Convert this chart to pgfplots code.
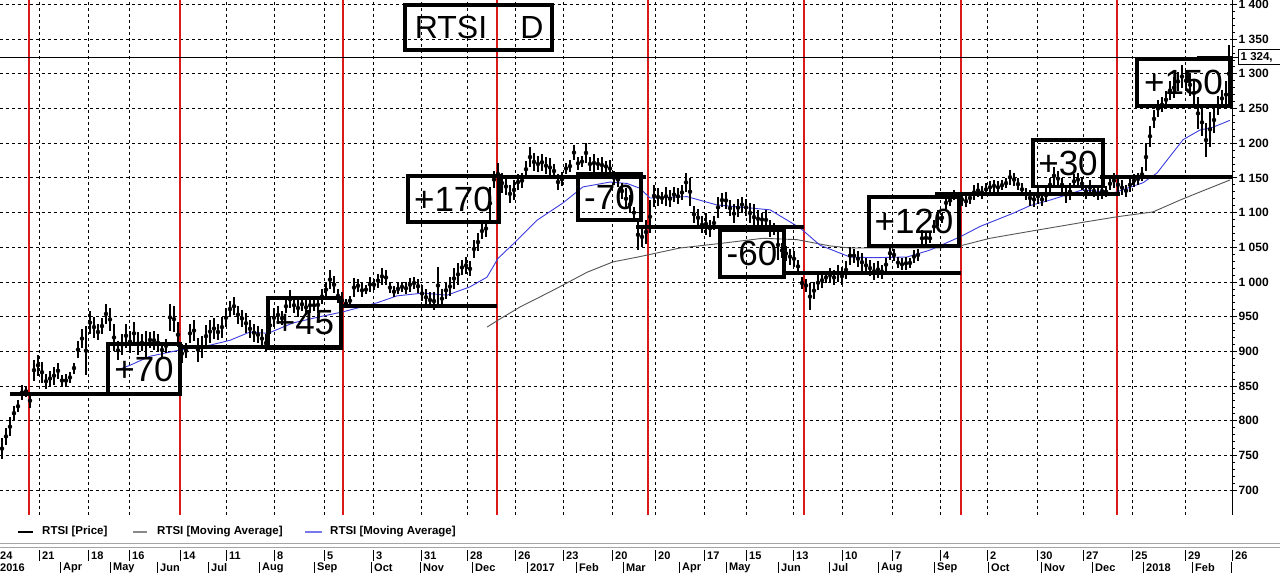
\documentclass[border=0pt]{standalone}
\usepackage{fontspec}
\setmainfont{Liberation Sans}
\usepackage{pgfplots}
\usepackage{pgfplotstable}
\pgfplotsset{compat=1.18}
\definecolor{redline}{RGB}{220,25,25}
\definecolor{mablue}{RGB}{60,60,225}
\definecolor{magray}{RGB}{85,85,85}
\definecolor{sepgray}{RGB}{165,165,165}

\pgfplotstableread{
x lo hi
2 745 775
6 765 790
10 778 805
14 800 822
18 812 830
22 830 852
26 835 850
30 818 840
34 858 888
38 865 895
42 855 885
46 846 868
50 850 872
54 852 878
58 860 884
62 850 866
66 848 868
70 855 870
74 868 884
78 890 915
82 905 932
86 866 936
90 925 958
94 920 950
98 916 940
102 925 948
106 940 968
110 930 962
114 900 940
118 888 915
122 895 925
126 905 940
130 898 930
134 910 942
138 895 928
142 900 925
146 892 930
150 905 928
154 902 930
158 900 925
162 892 912
166 898 918
170 930 968
174 928 965
178 906 942
182 884 910
186 890 912
190 912 940
194 915 945
198 885 920
202 890 922
206 906 938
210 912 945
214 918 948
218 916 940
222 920 950
226 935 962
230 950 972
234 952 978
238 940 966
242 935 960
246 926 955
250 920 945
254 914 940
258 912 936
262 905 932
266 899 925
270 925 950
274 935 962
278 940 965
282 938 958
286 955 975
290 962 988
294 955 978
298 950 975
302 958 978
306 952 975
310 955 978
314 958 975
318 956 978
322 968 990
326 978 1000
330 990 1017
334 984 1008
338 970 990
342 962 985
346 962 976
350 966 980
354 978 1006
358 985 1004
362 978 998
366 982 996
370 986 1007
374 988 1004
378 992 1012
382 996 1020
386 995 1018
390 984 1000
394 978 994
398 982 998
402 986 1000
406 982 1000
410 986 1006
414 990 1007
418 984 1004
422 972 995
426 966 990
430 962 986
434 960 985
438 968 1022
442 962 990
446 976 1000
450 980 1007
454 990 1020
458 995 1027
462 1010 1032
466 1012 1036
470 1008 1030
474 1035 1060
478 1045 1070
482 1062 1085
486 1065 1089
490 1090 1137
494 1135 1160
498 1140 1171
502 1128 1157
506 1125 1150
510 1114 1140
514 1118 1147
518 1133 1155
522 1135 1157
526 1150 1175
530 1165 1195
534 1160 1186
538 1158 1182
542 1160 1185
546 1155 1180
550 1152 1178
554 1150 1170
558 1133 1155
562 1138 1158
566 1155 1172
570 1158 1176
574 1176 1197
578 1162 1180
582 1165 1182
586 1172 1200
590 1160 1180
594 1158 1185
598 1162 1178
602 1157 1180
606 1158 1175
610 1151 1176
614 1140 1160
618 1137 1158
622 1120 1142
626 1105 1135
630 1099 1125
634 1092 1108
638 1046 1090
642 1050 1080
646 1055 1089
650 1070 1118
654 1108 1140
658 1110 1135
662 1112 1130
666 1110 1137
670 1108 1132
674 1115 1137
678 1112 1135
682 1118 1140
686 1130 1157
690 1110 1150
694 1085 1110
698 1080 1105
702 1070 1095
706 1068 1099
710 1065 1090
714 1075 1095
718 1092 1123
722 1108 1128
726 1105 1130
730 1095 1118
734 1085 1112
738 1094 1120
742 1100 1123
746 1095 1120
750 1085 1114
754 1075 1112
758 1078 1104
762 1080 1100
766 1075 1104
770 1065 1089
774 1068 1085
778 1032 1075
782 1035 1056
786 1030 1052
790 1025 1048
794 1022 1045
798 1013 1032
802 990 1007
806 985 1005
810 960 998
814 975 1000
818 988 1010
822 992 1013
826 998 1015
830 1000 1020
834 995 1018
838 1000 1025
842 995 1022
846 1005 1030
850 1025 1051
854 1028 1048
858 1022 1045
862 1015 1042
866 1013 1035
870 1008 1032
874 1003 1028
878 1006 1030
882 1005 1025
886 1015 1035
890 1032 1051
894 1030 1048
898 1020 1036
902 1017 1034
906 1018 1036
910 1020 1035
914 1027 1046
918 1030 1048
922 1051 1075
926 1055 1072
930 1056 1070
934 1070 1090
938 1080 1104
942 1085 1100
946 1105 1123
950 1110 1125
954 1118 1133
958 1120 1130
962 1110 1128
966 1108 1125
970 1112 1130
974 1118 1140
978 1122 1142
982 1120 1138
986 1125 1142
990 1128 1145
994 1130 1147
998 1128 1145
1002 1132 1147
1006 1135 1150
1010 1140 1162
1014 1138 1157
1018 1132 1150
1022 1125 1142
1026 1118 1135
1030 1110 1132
1034 1108 1130
1038 1112 1135
1042 1110 1128
1046 1115 1135
1050 1130 1150
1054 1140 1166
1058 1138 1160
1062 1130 1150
1066 1114 1138
1070 1118 1142
1074 1135 1155
1078 1138 1157
1082 1133 1150
1086 1120 1140
1090 1125 1147
1094 1122 1140
1098 1118 1135
1102 1120 1142
1106 1122 1138
1110 1133 1150
1114 1135 1157
1118 1130 1150
1122 1125 1147
1126 1123 1140
1130 1130 1150
1134 1137 1155
1138 1140 1157
1142 1145 1165
1146 1160 1200
1150 1195 1225
1154 1222 1248
1158 1238 1262
1162 1245 1266
1166 1250 1275
1170 1262 1290
1174 1265 1295
1178 1275 1303
1182 1280 1312
1186 1275 1305
1190 1268 1300
1194 1255 1290
1198 1220 1266
1202 1210 1250
1206 1180 1229
1210 1195 1245
1214 1215 1252
1218 1240 1268
1222 1252 1277
1226 1250 1290
1229 1258 1342
}\bars

\begin{document}
\begin{tikzpicture}
\useasboundingbox (0pt,0pt) rectangle (1280pt,580pt);
\fill[white] (0pt,0pt) rectangle (1280pt,580pt);
\begin{axis}[
  at={(0pt,65pt)}, anchor=south west,
  scale only axis, width=1232pt, height=515pt,
  xmin=0, xmax=1232, ymin=664.27, ymax=1406.34,
  axis line style={draw=none},
  xtick={39,88,129,180,226,274,324,373,421,467,515,563,612,655,704,746,793,842,892,940,987,1037,1083,1132,1185},
  xticklabels={}, major x tick style={draw=none},
  ytick={700,750,...,1400}, minor y tick num=4,
  ytick pos=right, yticklabel pos=right, tick align=outside,
  major tick length=5pt, minor tick length=2.5pt,
  y tick style={black, line width=0.8pt},
  yticklabel style={font=\fontsize{12}{14}\selectfont\bfseries, anchor=west, inner sep=0pt, xshift=1.5pt,
    /pgf/number format/1000 sep={\ }, /pgf/number format/assume math mode=true},
  xmajorgrids, ymajorgrids,
  major grid style={black, line width=0.8pt, dash pattern=on 3pt off 3pt},
]
% red period lines
\foreach \r in {29,180,343,497,648,804,961,1117}{
  \edef\temp{\noexpand\draw[redline, line width=2pt] (axis cs:\r,664.27) -- (axis cs:\r,1406.34);}
  \temp
}
% current price line
\draw[black, line width=0.8pt] (axis cs:0,1324.2) -- (axis cs:1232,1324.2);
% moving averages
\addplot[magray, line width=0.9pt] coordinates {
(487,935) (498,945) (520,964) (553,988) (587,1014) (613,1029) (638,1036) (680,1049) (723,1056) (763,1063) (797,1061) (830,1052) (850,1049) (907,1049) (940,1049) (960,1052) (990,1063) (1030,1073) (1083,1086) (1117,1094) (1153,1101) (1180,1118) (1197,1128) (1230,1147)};
\addplot[mablue, line width=0.9pt] coordinates {
(117,873) (130,880) (150,893) (180,902) (210,909) (230,916) (250,928) (268,926) (293,941) (320,950) (343,957) (377,970) (397,980) (423,984) (447,981) (470,993) (487,1007) (498,1034) (517,1060) (537,1089) (563,1114) (583,1137) (610,1144) (627,1142) (640,1135) (650,1121) (687,1123) (717,1111) (740,1108) (770,1104) (800,1078) (820,1053) (850,1036) (873,1035) (907,1036) (930,1046) (960,1065) (980,1080) (1013,1099) (1030,1110) (1050,1118) (1083,1133) (1113,1128) (1143,1143) (1157,1157) (1183,1205) (1200,1219) (1213,1223) (1230,1233)};
% price bars
\addplot[only marks, mark=none,
  error bars/.cd, y dir=both, y explicit, error mark=none,
  error bar style={draw=black, line width=2pt}]
  table[x=x, y expr={(\thisrow{lo}+\thisrow{hi})/2}, y error expr={(\thisrow{hi}-\thisrow{lo})/2}] {\bars};
% level lines
\addplot[black, line width=4pt] coordinates {(10,839) (180,839)};
\addplot[black, line width=4pt] coordinates {(180,907) (343,907)};
\addplot[black, line width=4pt] coordinates {(343,965) (497,965)};
\addplot[black, line width=4pt] coordinates {(497,1152) (646,1152)};
\addplot[black, line width=4pt] coordinates {(636,1079) (804,1079)};
\addplot[black, line width=4pt] coordinates {(785,1013) (961,1013)};
\addplot[black, line width=4pt] coordinates {(935,1127) (1120,1127)};
\addplot[black, line width=4pt] coordinates {(1100,1152) (1232,1152)};
\addplot[black, line width=4pt] coordinates {(1197,1323) (1232,1323)};
% boxes
\tikzset{bx/.style={draw=black, line width=3.5pt}, bt/.style={font=\fontsize{35}{40}\selectfont, inner sep=0pt}}
\draw[bx] (axis cs:108,838.6) rectangle (axis cs:180,910.7);
\node[bt] at (axis cs:144,874.6) {+70};
\draw[bx] (axis cs:268,904.9) rectangle (axis cs:341,976.9);
\node[bt] at (axis cs:304.5,940.9) {+45};
\draw[bx] (axis cs:408,1086.5) rectangle (axis cs:499,1152.7);
\node[bt] at (axis cs:453.5,1119.6) {+170};
\draw[bx] (axis cs:578,1089.3) rectangle (axis cs:641,1155.6);
\node[bt] at (axis cs:609.5,1122.4) {-70};
\draw[bx] (axis cs:720,1007.2) rectangle (axis cs:784,1074.9);
\node[bt] at (axis cs:752,1041) {-60};
\draw[bx] (axis cs:869,1051.9) rectangle (axis cs:959,1122.5);
\node[bt] at (axis cs:914,1087.2) {+120};
\draw[bx] (axis cs:1033,1137.3) rectangle (axis cs:1103,1204.6);
\node[bt] at (axis cs:1068,1171) {+30};
\draw[bx] (axis cs:1137,1253.6) rectangle (axis cs:1230,1320.9);
\node[bt] at (axis cs:1183.5,1287.2) {+150};
\draw[bx] (axis cs:405,1334.3) rectangle (axis cs:552,1399.1);
\node[font=\fontsize{32}{38}\selectfont, inner sep=0pt] at (axis cs:451,1366.7) {RTSI};
\node[font=\fontsize{32}{38}\selectfont, inner sep=0pt] at (axis cs:532,1366.7) {D};
\end{axis}
% right axis line
\draw[black, line width=1pt] (1232pt,65pt) -- (1232pt,580pt);
% current price label
\draw[black, line width=0.8pt] (1232pt,523pt) -- (1238pt,523pt);
\draw[black, line width=0.8pt, fill=white] (1238pt,515.5pt) rectangle (1281pt,530.5pt);
\node[anchor=west, inner sep=0pt, font=\fontsize{11.5}{13}\selectfont\bfseries] at (1240.5pt,523pt) {1 324,};
% legend
\tikzset{lg/.style={anchor=west, inner sep=0pt, font=\fontsize{11.5}{13}\selectfont\bfseries}}
\draw[black, line width=2pt] (18pt,48pt) -- (33pt,48pt);
\node[lg] at (42pt,48pt) {RTSI [Price]};
\draw[magray!70, line width=2pt] (133pt,48pt) -- (147pt,48pt);
\node[lg] at (157pt,48pt) {RTSI [Moving Average]};
\draw[mablue!70, line width=2pt] (305pt,48pt) -- (322pt,48pt);
\node[lg] at (330pt,48pt) {RTSI [Moving Average]};
% separator double line
\draw[sepgray, line width=1pt] (0pt,36pt) -- (1280pt,36pt);
\draw[sepgray, line width=1pt] (0pt,32.5pt) -- (1280pt,32.5pt);
% date rows
\tikzset{dl/.style={anchor=west, inner sep=0pt, font=\fontsize{11}{13}\selectfont\bfseries}}
\node[dl] at (0pt,24.5pt) {24};
\foreach \x/\t in {39/21,88/18,129/16,180/14,226/11,274/8,324/5,373/3,421/31,467/28,515/26,563/23,612/20,655/20,704/17,746/15,793/13,842/10,892/7,940/4,987/2,1037/30,1083/27,1132/25,1185/29,1232/26}{
  \draw[black, line width=0.8pt] (\x pt,30pt) -- (\x pt,19pt);
  \node[dl] at (\x pt+3pt,24.5pt) {\t};
}
\node[dl] at (0pt,12.5pt) {2016};
\foreach \x/\t in {60/Apr,110/May,157/Jun,208/Jul,259/Aug,314/Sep,371/Oct,420/Nov,472/Dec,527/2017,576/Feb,623/Mar,679/Apr,726/May,778/Jun,829/Jul,878/Aug,934/Sep,988/Oct,1041/Nov,1092/Dec,1143/2018,1192/Feb}{
  \draw[black, line width=0.8pt] (\x pt,18pt) -- (\x pt,7pt);
  \node[dl] at (\x pt+3pt,12.5pt) {\t};
}
\draw[black, line width=0.8pt] (1231pt,18pt) -- (1231pt,7pt);
\end{tikzpicture}
\end{document}
